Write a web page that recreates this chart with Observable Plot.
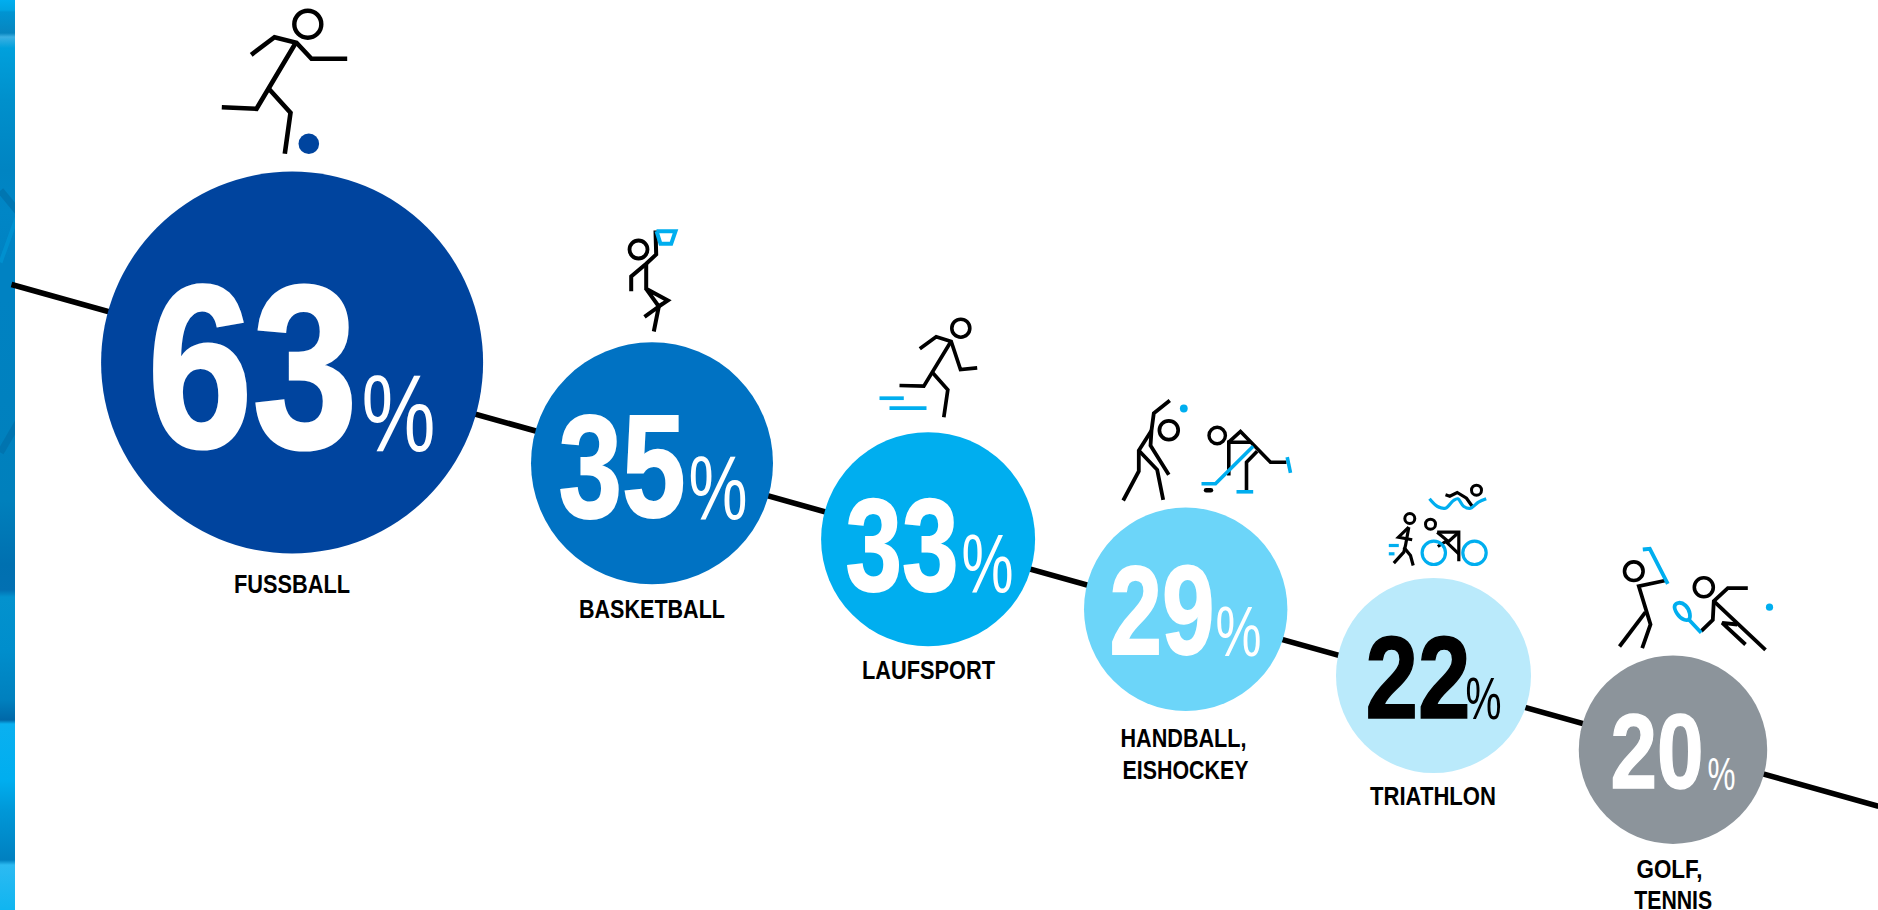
<!DOCTYPE html>
<html lang="de">
<head>
<meta charset="utf-8">
<script src="https://cdn.jsdelivr.net/npm/d3@7"></script>
<script src="https://cdn.jsdelivr.net/npm/@observablehq/plot@0.6"></script>
<style>
  html, body { margin: 0; padding: 0; background: #fff; overflow: hidden; }
  svg { display: block; }
</style>
</head>
<body>
<div id="chart"></div>
<script>
// ---- Values
const categories = ["FUSSBALL", "BASKETBALL", "LAUFSPORT", "HANDBALL, EISHOCKEY", "TRIATHLON", "GOLF, TENNIS"];
const shares = [63, 35, 33, 29, 22, 20];
const bubbleColors = ["#00449E", "#0072C3", "#00AEEF", "#6CD5F9", "#BAEAFB", "#8C949B"];
const shareColors = ["#fff", "#fff", "#fff", "#fff", "#000", "#fff"];
const labelLines = [
  ["FUSSBALL"], ["BASKETBALL"], ["LAUFSPORT"], ["HANDBALL,", "EISHOCKEY"], ["TRIATHLON"], ["GOLF,", "TENNIS"]
];

// ---- Infographic layout (the picture's own unit grid, through Plot's x/y/r scales)
const bubbleRadius = [191, 121, 107, 101.7, 97.5, 94.2];
const bubbleX = [291.6, 651.5, 927.6, 1185.2, 1433, 1672.5];
const bubbleY = [362, 462.7, 538.7, 608.7, 675, 749.2];
const digitX = [147, 558, 845, 1109, 1365, 1610];
const digitLen = [210, 127, 113, 105, 105, 93];
const digitEm = [232, 146, 132, 127, 117, 106];
const baseY = [446, 516, 590, 653, 717, 787];
const pctBase = [450, 518, 592, 655, 718, 789];
const pctX = [361, 688, 961, 1215, 1465, 1707];
const pctLen = [74, 59, 52, 46, 36, 28];
const pctEm = [110, 90, 84, 70, 60, 47];
const labelX = [[291.5], [651.5], [928], [1183, 1185], [1432.5], [1669, 1672.7]];
const labelBase = [[592.5], [617.5], [678.5], [746.5, 778.5], [804.5], [877.5, 908]];
const labelLen = [[116], [146], [133], [126, 126], [126], [66, 78]];
const trendX = [11, 1878];
const trendY = [284, 805.7];

const BLUE = "#00AEEF", BLACK = "#000";
// Pictograms: [stroke, width, curve, points]
const figures = [
  // Fussball
  [BLACK, 4.6, "linear", [[250.7,54.3],[274,36.7],[296,42.3],[311,58.3],[346.7,58.3]]],
  [BLACK, 4.6, "linear", [[294.7,43.3],[256,108.3],[221.3,106.7]]],
  [BLACK, 4.6, "linear", [[268.3,88.3],[290,112.3],[284.3,153.3]]],
  // Basketball
  [BLACK, 4, "linear", [[655,230],[655.7,254],[645.7,263.3],[630.7,276],[630.7,290.7]]],
  [BLACK, 4, "linear", [[645.7,263.3],[645.7,288.3],[667.3,300],[658.3,306],[645.7,288.3]]],
  [BLACK, 4, "linear", [[644,316.3],[658.3,306],[653.3,331]]],
  [BLUE, 4, "linear", [[656,230.7],[675,230.7],[670.7,243.3],[660,243.3],[656,230.7]]],
  // Laufsport
  [BLACK, 3.7, "linear", [[919.3,348.3],[935.7,336.3],[950.7,341],[960,369],[976.7,367.3]]],
  [BLACK, 3.7, "linear", [[950,341.7],[923.3,385.7],[899,385]]],
  [BLACK, 3.7, "linear", [[931.7,371.7],[947.3,389.3],[943.3,416.7]]],
  [BLUE, 3.7, "linear", [[879,397.7],[903.3,397.7]]],
  [BLUE, 3.7, "linear", [[889,407.7],[926,407.7]]],
  // Handball
  [BLACK, 3.8, "linear", [[1169.3,400],[1153.3,412.7],[1151,430],[1150,445],[1168.3,474.3]]],
  [BLACK, 3.8, "linear", [[1151,430],[1138.3,450],[1138.3,470.7],[1122.7,500]]],
  [BLACK, 3.8, "linear", [[1138.3,450],[1156.7,469.3],[1162.7,499.3]]],
  // Eishockey
  [BLACK, 3.6, "linear", [[1228.3,475],[1228.3,441.7],[1250,441.7]]],
  [BLACK, 3.6, "linear", [[1228.3,441.7],[1240,431],[1270,461.7],[1286,461.7]]],
  [BLACK, 3.6, "linear", [[1256.7,450.7],[1246,461.7],[1246,491]]],
  [BLUE, 3.6, "linear", [[1236,491.3],[1252.7,491.3]]],
  [BLUE, 3.6, "linear", [[1286.7,456.7],[1290,472.3]]],
  [BLUE, 3.6, "linear", [[1252.7,445.7],[1215,483.3],[1201,483.3]]],
  // Triathlon
  [BLACK, 3.2, "linear", [[1445,494.3],[1449.3,495.7],[1456.7,492],[1466,497.7],[1471.7,505.7]]],
  [BLUE, 3.2, "catmull-rom", [[1429,498.3],[1437,506],[1445,507.7],[1453,500],[1457.3,498.3],[1463.3,506],[1470,507.7],[1478,501.7],[1485.7,498.3]]],
  [BLACK, 3.2, "linear", [[1408.3,526.7],[1398,536.7],[1411.7,539.3]]],
  [BLACK, 3.2, "linear", [[1408.3,526.7],[1405,545],[1403.3,551.7],[1393.3,562.7]]],
  [BLACK, 3.2, "linear", [[1403.3,546.7],[1410,555],[1412.7,565]]],
  [BLUE, 3.2, "linear", [[1388.3,545],[1398.3,545]]],
  [BLUE, 3.2, "linear", [[1388.3,553.3],[1394,553.3]]],
  [BLACK, 3.2, "linear", [[1436.7,531.7],[1458.3,531.7],[1458.3,560.7]]],
  [BLACK, 3.2, "linear", [[1458.3,531.7],[1446.7,542.3],[1458.3,553.3]]],
  [BLACK, 3.2, "linear", [[1436.7,531.7],[1446.7,540],[1437.3,546]]],
  // Golf
  [BLACK, 3.8, "linear", [[1665,580],[1638.3,585.7],[1650,624],[1641.7,647.7]]],
  [BLACK, 3.8, "linear", [[1645,611.7],[1619,646]]],
  [BLUE, 3.8, "linear", [[1667.3,583.3],[1649.3,548.3],[1642.3,549]]],
  // Tennis
  [BLACK, 3.8, "linear", [[1747.3,587.7],[1727.3,587.7],[1713.3,600.7],[1712.3,619.3],[1700.7,630.7]]],
  [BLACK, 3.8, "linear", [[1713.3,600.7],[1765,649.3]]],
  [BLACK, 3.8, "linear", [[1736.7,624],[1721.7,622.3],[1745,644]]],
  [BLUE, 3.8, "catmull-rom-closed", [[1674.3,605],[1678.3,602.3],[1685,605],[1689.3,613.3],[1688.3,619],[1683.3,619],[1676.7,613.3]]],
  [BLUE, 3.8, "linear", [[1688.3,619],[1700.7,632.3]]]
];
// Heads, wheels and balls: [x, y, radius, stroke, fill, stroke width]
const rings = [
  [307.3,23.7,13.5,BLACK,"none",4.4],
  [638,249,9,BLACK,"none",3.8],
  [960.3,327.7,9,BLACK,"none",3.6],
  [1168.3,429.7,9.4,BLACK,"none",3.7],
  [1216.7,435,8.2,BLACK,"none",3.4],
  [1476,489.7,5,BLACK,"none",3],
  [1409.3,518,5,BLACK,"none",3],
  [1430,523.7,5,BLACK,"none",3],
  [1433.3,552.3,11.7,BLUE,"none",3.2],
  [1474,552.3,11.7,BLUE,"none",3.2],
  [1633.3,570.7,9.3,BLACK,"none",3.6],
  [1703.3,586.7,9.5,BLACK,"none",3.6],
  [308.3,143.3,10.3,"none","#00449E",0],
  [1183.3,408,3.9,"none",BLUE,0],
  [1769,606.7,3.6,"none",BLUE,0]
];
const stripStops = [
  [0,"#00AEEF"],[10,"#00A4E2"],[12,"#0094D2"],[33,"#0785BF"],[37,"#3CB0E2"],[48,"#00A0DC"],
  [100,"#0090CC"],[170,"#0084C2"],[212,"#0086C6"],[260,"#0082C2"],
  [300,"#0082C2"],[500,"#0080BC"],
  [565,"#0070B0"],[590,"#0270B2"],[597,"#0392CE"],[650,"#008ECC"],[700,"#0080BE"],
  [720,"#0068A8"],[724,"#0AB0F0"],[780,"#00AEEF"],[810,"#0098D8"],[860,"#0080C0"],
  [865,"#2CBAF2"],[910,"#10B5F0"]
];
// Diagonal swooshes of the backdrop strip: [color, width, x1, y1, x2, y2]
const swooshes = [
  ["#006FA9", 7, 0, 190, 18, 212],
  ["#0096D4", 4, 18, 212, 0, 262],
  ["#006FA9", 7, 0, 452, 18, 421]
];

// ---- Rows for the marks
const bubbles = categories.map((category, i) => ({category, share: shares[i], x: bubbleX[i], y: bubbleY[i]}));
const digits = shares.map((s, i) => ({text: String(s), x: digitX[i], y: baseY[i], em: digitEm[i], len: digitLen[i], fill: shareColors[i], halo: digitEm[i] * 0.014}));
const pcts = shares.map((s, i) => ({text: "%", x: pctX[i], y: pctBase[i], em: pctEm[i], len: pctLen[i], fill: shareColors[i]}));
const labels = labelLines.flatMap((lines, i) => lines.map((text, j) => ({text, x: labelX[i][j], y: labelBase[i][j], len: labelLen[i][j]})));

// Text squeezed to the condensed widths of the original lettering
const squeeze = rows => (index, scales, values, dimensions, context, next) => {
  const g = next(index, scales, values, dimensions, context);
  d3.select(g).selectAll("text").each(function (_, k) {
    const row = rows[index[k]];
    this.setAttribute("textLength", row.len);
    this.setAttribute("lengthAdjust", "spacingAndGlyphs");
    if (row.halo) {
      this.setAttribute("stroke", row.fill);
      this.setAttribute("stroke-width", row.halo);
    }
  });
  return g;
};

const lineMarks = figures.map(([stroke, strokeWidth, curve, pts]) =>
  Plot.line(pts, {x: "0", y: "1", stroke, strokeWidth, curve, strokeLinecap: "butt", strokeLinejoin: "miter", strokeMiterlimit: 3})
);
const ringMarks = rings.map(([x, y, r, stroke, fill, strokeWidth]) =>
  Plot.dot([[x, y]], {x: "0", y: "1", r, stroke, fill, strokeWidth})
);
const swooshMarks = swooshes.map(([stroke, strokeWidth, x1, y1, x2, y2]) =>
  Plot.line([[x1, y1], [x2, y2]], {x: "0", y: "1", stroke, strokeWidth, strokeOpacity: 0.7, strokeLinecap: "butt"})
);

const gradientDefs = () => {
  const svgNS = "http://www.w3.org/2000/svg";
  const defs = document.createElementNS(svgNS, "defs");
  const grad = document.createElementNS(svgNS, "linearGradient");
  grad.setAttribute("id", "stripGradient");
  grad.setAttribute("x1", 0); grad.setAttribute("x2", 0);
  grad.setAttribute("y1", 0); grad.setAttribute("y2", 1);
  for (const [y, color] of stripStops) {
    const stop = document.createElementNS(svgNS, "stop");
    stop.setAttribute("offset", y / 910);
    stop.setAttribute("stop-color", color);
    grad.appendChild(stop);
  }
  defs.appendChild(grad);
  return defs;
};

const plot = Plot.plot({
  width: 1878,
  height: 910,
  margin: 0,
  style: {background: "#fff", fontFamily: "'Liberation Sans', Arial, sans-serif"},
  x: {domain: [0, 1878], range: [0, 1878], axis: null},
  y: {domain: [0, 910], range: [0, 910], axis: null},
  r: {type: "linear", domain: shares.slice().reverse(), range: bubbleRadius.slice().reverse()},
  color: {domain: categories, range: bubbleColors},
  marks: [
    gradientDefs,
    Plot.rect([{}], {x1: 0, x2: 15, y1: 0, y2: 910, fill: "url(#stripGradient)"}),
    ...swooshMarks,
    Plot.rect([{}], {x1: 15, x2: 30, y1: 0, y2: 910, fill: "#fff"}),
    Plot.line(trendX.map((x, i) => ({x, y: trendY[i]})), {x: "x", y: "y", stroke: "#000", strokeWidth: 5.6, strokeLinecap: "butt"}),
    Plot.dot(bubbles, {x: "x", y: "y", r: "share", fill: "category"}),
    Plot.text(digits, {x: "x", y: "y", text: "text", fontSize: "em", fontWeight: "bold", fill: "fill", textAnchor: "start", lineAnchor: "bottom", render: squeeze(digits)}),
    Plot.text(pcts, {x: "x", y: "y", text: "text", fontSize: "em", fill: "fill", textAnchor: "start", lineAnchor: "bottom", render: squeeze(pcts)}),
    Plot.text(labels, {x: "x", y: "y", text: "text", fontSize: 26, fontWeight: "bold", fill: "#000", textAnchor: "middle", lineAnchor: "bottom", render: squeeze(labels)}),
    ...lineMarks,
    ...ringMarks,
    Plot.line([[1205.6, 489.7], [1210.4, 489.7]], {x: "0", y: "1", stroke: "#000", strokeWidth: 4.6, strokeLinecap: "round"})
  ]
});
document.getElementById("chart").appendChild(plot);
</script>
</body>
</html>
